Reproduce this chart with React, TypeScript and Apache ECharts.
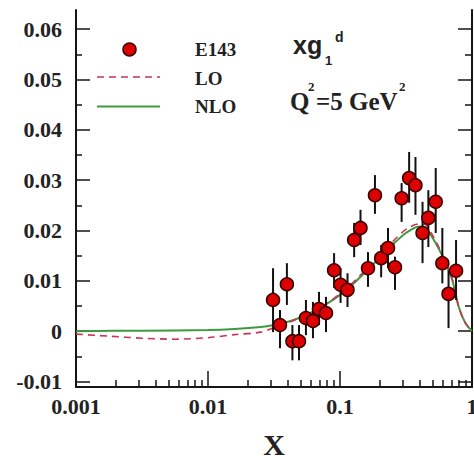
import React, { useEffect, useRef } from "react";
import * as echarts from "echarts";

// E143 data points: x, value, error-bar low, error-bar high
const pointX = [0.0311, 0.0351, 0.0396, 0.0436, 0.0489, 0.0552, 0.0624, 0.0693, 0.0783, 0.0902, 0.101, 0.114, 0.128, 0.143, 0.163, 0.184, 0.205, 0.231, 0.261, 0.293, 0.334, 0.373, 0.422, 0.467, 0.531, 0.596, 0.664, 0.757];
const pointY = [0.0062, 0.0012, 0.0093, -0.002, -0.002, 0.0026, 0.002, 0.0044, 0.0036, 0.0121, 0.0092, 0.0082, 0.0181, 0.0205, 0.0125, 0.027, 0.0145, 0.0165, 0.0127, 0.0264, 0.0304, 0.029, 0.0195, 0.0225, 0.0257, 0.0135, 0.0074, 0.012];
const pointLo = [-0.0002, -0.0034, 0.0052, -0.0058, -0.0058, -0.0008, -0.0014, 0.0012, -0.0002, 0.0086, 0.0056, 0.0048, 0.0147, 0.0171, 0.0088, 0.0233, 0.0107, 0.0125, 0.0082, 0.0217, 0.0255, 0.0231, 0.0135, 0.0167, 0.0195, 0.0095, 0.0006, 0.0062];
const pointHi = [0.0125, 0.0042, 0.0135, 0.0012, 0.0012, 0.0062, 0.0058, 0.0078, 0.0068, 0.0155, 0.0125, 0.0115, 0.0215, 0.0241, 0.0157, 0.031, 0.0171, 0.0205, 0.0148, 0.0294, 0.0356, 0.0346, 0.0257, 0.028, 0.0324, 0.0205, 0.0121, 0.0181];

// NLO curve
const nloX = [0.001, 0.00316, 0.01, 0.01585, 0.0251, 0.0316, 0.0398, 0.0501, 0.0631, 0.0794, 0.1, 0.126, 0.158, 0.2, 0.251, 0.316, 0.398, 0.447, 0.501, 0.562, 0.631, 0.708, 0.794, 0.891, 1.0];
const nloY = [0.0, 0.0001, 0.0002, 0.0004, 0.0008, 0.0012, 0.0018, 0.0027, 0.0039, 0.0054, 0.0072, 0.0094, 0.0119, 0.0146, 0.0172, 0.0195, 0.0208, 0.0205, 0.0186, 0.0163, 0.0135, 0.0102, 0.0048, 0.0016, 0.0];

// LO curve
const loX = [0.001, 0.00178, 0.00316, 0.00562, 0.01, 0.01585, 0.0251, 0.0316, 0.0398, 0.0501, 0.0631, 0.0794, 0.1, 0.126, 0.158, 0.2, 0.251, 0.316, 0.398, 0.447, 0.501, 0.562, 0.631, 0.708, 0.794, 0.891, 1.0];
const loY = [-0.0006, -0.001, -0.0014, -0.0016, -0.0013, -0.0007, -0.0002, 0.0007, 0.0016, 0.0027, 0.004, 0.0055, 0.0074, 0.0097, 0.0123, 0.0151, 0.0178, 0.0202, 0.0213, 0.0211, 0.0191, 0.0166, 0.0137, 0.0103, 0.0048, 0.0016, 0.0];

// Axis ticks
const yMajorTicks = [-0.01, 0, 0.01, 0.02, 0.03, 0.04, 0.05, 0.06];
const yMinorTicks = [-0.005, 0.005, 0.015, 0.025, 0.035, 0.045, 0.055];
const xDecadeLabels: Record<string, string> = { "-3": "0.001", "-2": "0.01", "-1": "0.1", "0": "1" };
const xMinorMultipliers = [2, 3, 4, 5, 6, 7, 8, 9];
const xMinorDecades = [-3, -2, -1];

const serif = "'Liberation Serif', 'Times New Roman', serif";
const sans = "'Liberation Sans', Arial, sans-serif";
const AXIS = "#151515";

export default function App() {
  const ref = useRef<HTMLDivElement>(null);

  useEffect(() => {
    document.body.style.margin = "0";
    if (!ref.current) return;
    const chart = echarts.init(ref.current, null, { renderer: "svg" });

    const xMinorLog: number[] = [];
    xMinorDecades.forEach((d) => xMinorMultipliers.forEach((m) => xMinorLog.push(Math.log10(m) + d)));

    const yMin = -0.0111;
    const yMax = 0.0638;

    const yBase = {
      type: "value",
      min: yMin,
      max: yMax,
      splitLine: { show: false },
      axisLine: { onZero: false },
    };

    const option: any = {
      animation: false,
      grid: { left: 76, right: 2, top: 10, bottom: 69, outerBoundsMode: "none", containLabel: false },
      xAxis: [
        {
          type: "log",
          logBase: 10,
          min: 0.001,
          max: 1,
          position: "bottom",
          splitLine: { show: false },
          axisLine: { show: true, onZero: false, lineStyle: { color: AXIS, width: 2 } },
          axisTick: { show: true, inside: true, length: 16, lineStyle: { color: AXIS, width: 1.5 } },
          axisLabel: {
            show: true,
            margin: 8,
            fontSize: 22,
            fontWeight: "bold",
            fontFamily: serif,
            color: "#222",
            formatter: (v: number) => xDecadeLabels[String(Math.round(Math.log10(v)))] ?? "",
          },
          name: "X",
          nameLocation: "middle",
          nameGap: 46,
          nameTextStyle: { fontSize: 30, lineHeight: 22, fontWeight: "bold", fontFamily: serif, color: "#222" },
        },
        {
          type: "value",
          min: -3,
          max: 0,
          position: "bottom",
          splitLine: { show: false },
          axisLine: { show: false, onZero: false },
          axisLabel: { show: false },
          axisTick: { show: true, inside: true, length: 7, customValues: xMinorLog, lineStyle: { color: AXIS, width: 1.5 } },
        },
      ],
      yAxis: [
        {
          ...yBase,
          position: "left",
          axisLine: { show: true, onZero: false, lineStyle: { color: AXIS, width: 2 } },
          axisTick: { show: true, inside: true, length: 14, customValues: yMajorTicks, lineStyle: { color: AXIS, width: 1.5 } },
          axisLabel: {
            show: true,
            customValues: yMajorTicks,
            margin: 14,
            fontSize: 22,
            fontWeight: "bold",
            fontFamily: serif,
            color: "#222",
            formatter: (v: number) => (Math.abs(v) < 1e-9 ? "0" : v.toFixed(2)),
          },
        },
        {
          ...yBase,
          position: "left",
          axisLine: { show: false, onZero: false },
          axisLabel: { show: false },
          axisTick: { show: true, inside: true, length: 6, customValues: yMinorTicks, lineStyle: { color: AXIS, width: 1.5 } },
        },
        {
          ...yBase,
          position: "right",
          axisLine: { show: true, onZero: false, lineStyle: { color: AXIS, width: 2 } },
          axisLabel: { show: false },
          axisTick: { show: true, inside: true, length: 14, customValues: yMajorTicks, lineStyle: { color: AXIS, width: 1.5 } },
        },
        {
          ...yBase,
          position: "right",
          axisLine: { show: false, onZero: false },
          axisLabel: { show: false },
          axisTick: { show: true, inside: true, length: 7, customValues: yMinorTicks, lineStyle: { color: AXIS, width: 1.5 } },
        },
      ],
      series: [
        {
          name: "NLO",
          type: "line",
          xAxisIndex: 0,
          yAxisIndex: 0,
          data: nloX.map((x, i) => [x, nloY[i]]),
          symbol: "none",
          smooth: 0.3,
          lineStyle: { color: "#3f9a3f", width: 2 },
          z: 2,
        },
        {
          name: "LO",
          type: "line",
          xAxisIndex: 0,
          yAxisIndex: 0,
          data: loX.map((x, i) => [x, loY[i]]),
          symbol: "none",
          smooth: 0.3,
          lineStyle: { color: "#cc3355", width: 1.6, type: [7, 5] },
          z: 3,
        },
        {
          name: "errors",
          type: "custom",
          xAxisIndex: 0,
          yAxisIndex: 0,
          data: pointX.map((x, i) => [x, pointLo[i], pointHi[i]]),
          encode: { x: 0, y: [1, 2] },
          renderItem: (params: any, api: any) => {
            const a = api.coord([api.value(0), api.value(1)]);
            const b = api.coord([api.value(0), api.value(2)]);
            return {
              type: "line",
              shape: { x1: a[0], y1: a[1], x2: b[0], y2: b[1] },
              style: { stroke: "#111", lineWidth: 2 },
            };
          },
          z: 4,
        },
        {
          name: "E143",
          type: "scatter",
          xAxisIndex: 0,
          yAxisIndex: 0,
          data: pointX.map((x, i) => [x, pointY[i]]),
          symbol: "circle",
          symbolSize: 13,
          itemStyle: { color: "#dd0000", borderColor: "#3a0000", borderWidth: 1.5, opacity: 1 },
          z: 5,
        },
      ],
      graphic: [
        // legend
        { type: "circle", shape: { cx: 129.5, cy: 49.5, r: 6.5 }, style: { fill: "#dd0000", stroke: "#3a0000", lineWidth: 1.5 } },
        { type: "line", shape: { x1: 97, y1: 77, x2: 160, y2: 77 }, style: { stroke: "#cc3355", lineWidth: 1.6, lineDash: [7, 5] } },
        { type: "line", shape: { x1: 97, y1: 106.5, x2: 160, y2: 106.5 }, style: { stroke: "#3f9a3f", lineWidth: 2 } },
        { type: "text", x: 195, y: 49, style: { text: "E143", font: `bold 19px ${serif}`, fill: "#222", verticalAlign: "middle", align: "left" } },
        { type: "text", x: 195, y: 78.5, style: { text: "LO", font: `bold 19px ${serif}`, fill: "#222", verticalAlign: "middle", align: "left" } },
        { type: "text", x: 195, y: 106, style: { text: "NLO", font: `bold 19px ${serif}`, fill: "#222", verticalAlign: "middle", align: "left" } },
        // xg1^d
        { type: "text", x: 293, y: 44.5, style: { text: "xg", font: `bold 25px ${sans}`, fill: "#222", verticalAlign: "middle", align: "left" } },
        { type: "text", x: 325, y: 60.5, style: { text: "1", font: `bold 13px ${sans}`, fill: "#222", verticalAlign: "middle", align: "left" } },
        { type: "text", x: 335, y: 37, style: { text: "d", font: `bold 14px ${sans}`, fill: "#222", verticalAlign: "middle", align: "left" } },
        // Q^2 = 5 GeV^2
        { type: "text", x: 290, y: 101.5, style: { text: "Q", font: `bold 25px ${serif}`, fill: "#222", verticalAlign: "middle", align: "left" } },
        { type: "text", x: 308, y: 86, style: { text: "2", font: `bold 13px ${serif}`, fill: "#222", verticalAlign: "middle", align: "left" } },
        { type: "text", x: 316, y: 101.5, style: { text: "=5 GeV", font: `bold 25px ${serif}`, fill: "#222", verticalAlign: "middle", align: "left" } },
        { type: "text", x: 399, y: 86, style: { text: "2", font: `bold 13px ${serif}`, fill: "#222", verticalAlign: "middle", align: "left" } },
      ],
    };

    chart.setOption(option);
    return () => chart.dispose();
  }, []);

  return <div ref={ref} style={{ width: 474, height: 456 }} />;
}
